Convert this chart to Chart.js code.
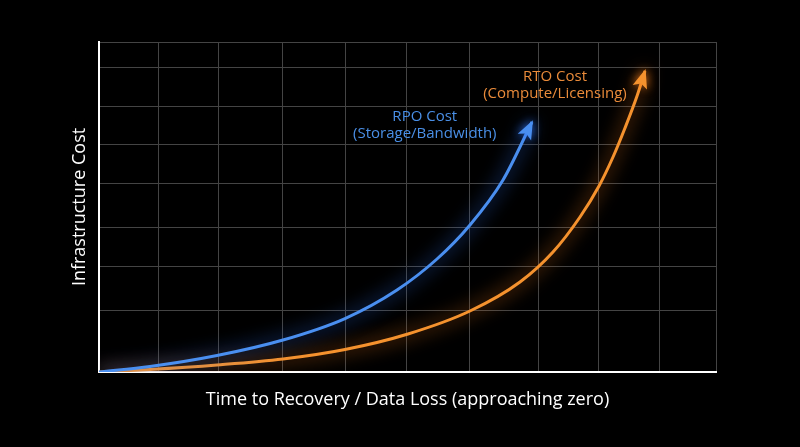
<!DOCTYPE html>
<html><head><meta charset="utf-8">
<script src="https://cdn.jsdelivr.net/npm/chart.js@4.4.1/dist/chart.umd.min.js"></script>
<style>html,body{margin:0;padding:0;background:#000;}#wrap{width:800px;height:447px;position:relative;}</style>
</head><body><div id="wrap"><canvas id="c"></canvas></div>
<script>
// ---- data ----
const rpoX = [0, 8.27, 19.12, 29.82, 39.87, 48.30, 54.78, 60.13, 65.48, 70.18];
const rpoY = [0, 1.67, 5.00, 9.70, 16.21, 24.85, 34.24, 44.55, 58.18, 75.76];
const rtoX = [0, 8.27, 19.12, 29.82, 39.87, 50.08, 60.13, 68.23, 73.58, 77.96, 81.04, 83.31, 85.25, 87.20, 88.49];
const rtoY = [0, 0.76, 2.12, 3.94, 6.82, 11.52, 18.48, 27.27, 36.36, 46.97, 56.36, 65.15, 73.94, 83.64, 91.21];
const xGridTicks = [0, 9.6, 19.3, 29.8, 40.0, 49.9, 60.1, 71.2, 81.0, 90.8, 100];
const yGridTicks = [0, 18.5, 32.1, 43.9, 57.0, 68.8, 80.6, 92.4, 100];
const seriesNames = ['RPO Cost', 'RTO Cost'];
const seriesNotes = ['(Storage/Bandwidth)', '(Compute/Licensing)'];
const xTitle = 'Time to Recovery / Data Loss (approaching zero)';
const yTitle = 'Infrastructure Cost';

const toPts = (xs, ys) => xs.map((v, i) => ({x: v, y: ys[i]}));

const glowPlugin = {
  id: 'glow',
  beforeDatasetDraw(chart, args) {
    const ds = chart.data.datasets[args.index];
    const ctx = chart.ctx;
    ctx.save();
    ctx.shadowColor = ds.glowColor;
    ctx.shadowBlur = 18;
  },
  afterDatasetDraw(chart) { chart.ctx.restore(); }
};

const arrowPlugin = {
  id: 'arrows',
  afterDatasetsDraw(chart) {
    const ctx = chart.ctx;
    chart.data.datasets.forEach((ds, i) => {
      const pts = chart.getDatasetMeta(i).data;
      const tip = pts[pts.length - 1];
      let bx = tip.cp1x, by = tip.cp1y;
      if (bx === undefined || (Math.abs(bx - tip.x) < 0.5 && Math.abs(by - tip.y) < 0.5)) {
        bx = pts[pts.length - 2].x; by = pts[pts.length - 2].y;
      }
      const ang = Math.atan2(tip.y - by, tip.x - bx);
      const L = 17, W = 7.5;
      ctx.save();
      ctx.shadowColor = ds.glowColor;
      ctx.shadowBlur = 10;
      ctx.fillStyle = ds.borderColor;
      ctx.translate(tip.x, tip.y);
      ctx.rotate(ang);
      ctx.beginPath();
      ctx.moveTo(2, 0);
      ctx.lineTo(-L, -W);
      ctx.lineTo(-L + 4, 0);
      ctx.lineTo(-L, W);
      ctx.closePath();
      ctx.fill();
      ctx.restore();
    });
  }
};

const labelPlugin = {
  id: 'seriesLabels',
  afterDatasetsDraw(chart, args, opts) {
    const {ctx, scales: {x, y}} = chart;
    (opts.items || []).forEach((it, i) => {
      const px = x.getPixelForValue(it.x), py = y.getPixelForValue(it.y);
      ctx.save();
      ctx.font = '15px "Open Sans"';
      ctx.fillStyle = it.color;
      ctx.textAlign = 'center';
      ctx.textBaseline = 'middle';
      ctx.fillText(seriesNames[i], px, py - 8.5);
      ctx.fillText(seriesNotes[i], px, py + 8.5);
      ctx.restore();
    });
  }
};

new Chart(document.getElementById('c'), {
  type: 'line',
  data: {
    datasets: [
      { label: seriesNames[0], data: toPts(rpoX, rpoY), borderColor: '#4a8ff0', glowColor: 'rgba(50,120,255,0.95)', borderWidth: 3, pointRadius: 0, cubicInterpolationMode: 'monotone', fill: false },
      { label: seriesNames[1], data: toPts(rtoX, rtoY), borderColor: '#f5922e', glowColor: 'rgba(255,130,30,0.95)', borderWidth: 3, pointRadius: 0, cubicInterpolationMode: 'monotone', fill: false }
    ]
  },
  options: {
    responsive: true,
    maintainAspectRatio: false,
    animation: false,
    layout: { padding: { left: 69.2, right: 84, top: 42, bottom: 36.2 } },
    plugins: {
      legend: { display: false },
      tooltip: { enabled: false },
      seriesLabels: { items: [ { x: 52.8, y: 74.8, color: '#4a8fe6' }, { x: 73.9, y: 87.0, color: '#ea8b3a' } ] }
    },
    scales: {
      x: {
        type: 'linear', min: 0, max: 100,
        afterBuildTicks: s => { s.ticks = xGridTicks.map(v => ({value: v})); },
        ticks: { display: false },
        grid: { color: '#444444', lineWidth: 1, drawTicks: false },
        border: { display: true, color: '#ffffff', width: 2 },
        title: { display: true, text: xTitle, color: '#ffffff', font: { family: 'Open Sans', size: 18 }, padding: { top: 17.2, bottom: 0 } }
      },
      y: {
        type: 'linear', min: 0, max: 100,
        afterBuildTicks: s => { s.ticks = yGridTicks.map(v => ({value: v})); },
        ticks: { display: false },
        grid: { color: '#444444', lineWidth: 1, drawTicks: false },
        border: { display: true, color: '#ffffff', width: 2 },
        title: { display: true, text: yTitle, color: '#ffffff', font: { family: 'Open Sans', size: 18 }, padding: { top: 0, bottom: 8.2 } }
      }
    }
  },
  plugins: [glowPlugin, arrowPlugin, labelPlugin]
});
</script></body></html>
